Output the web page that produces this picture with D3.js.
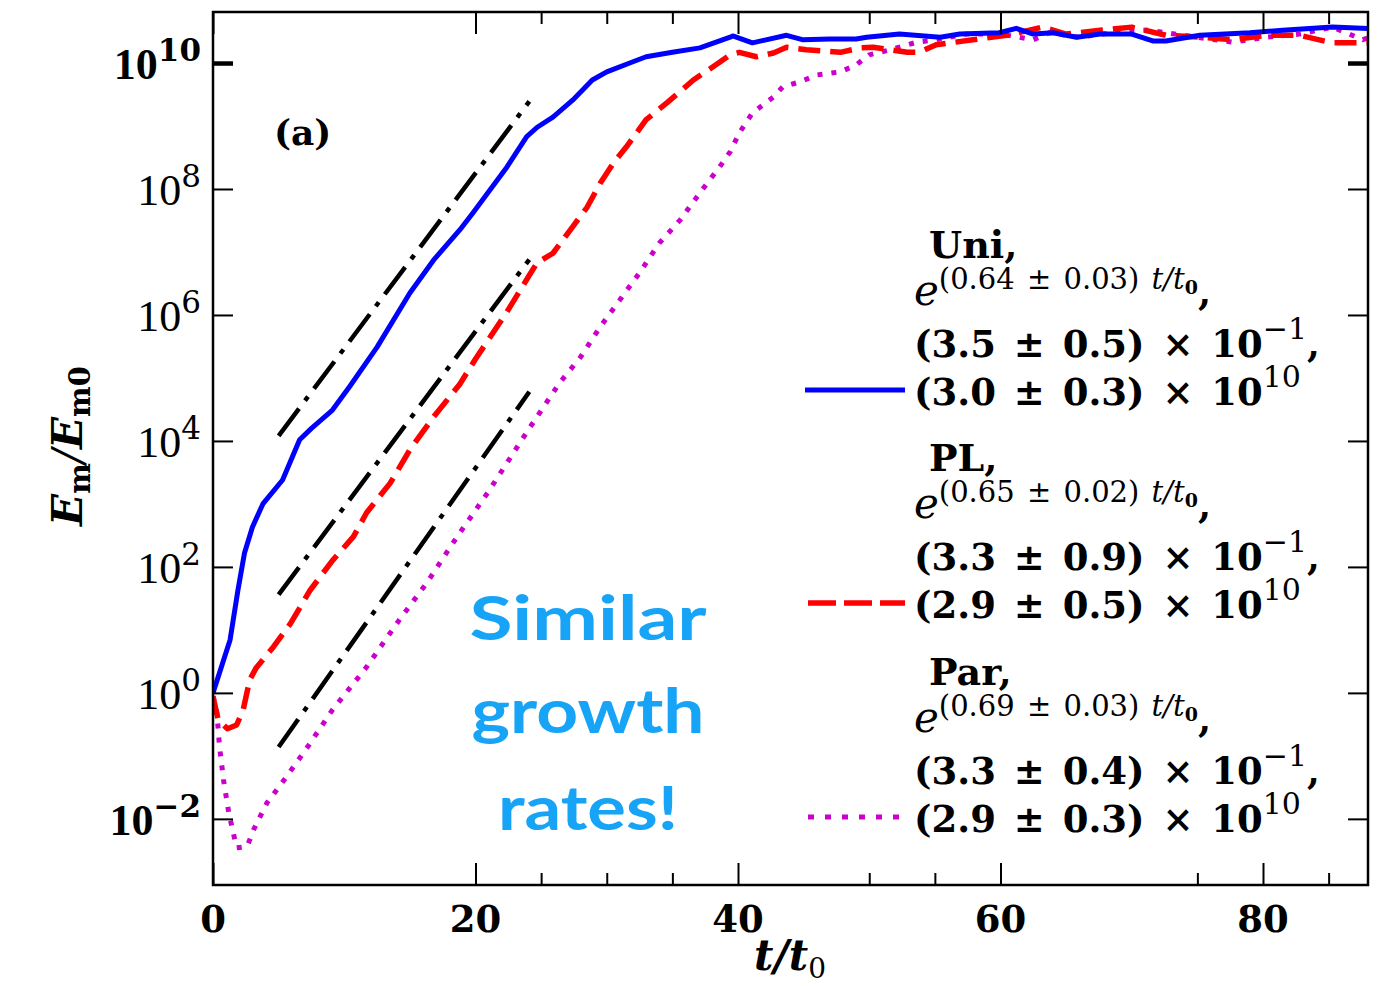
<!DOCTYPE html>
<html>
<head>
<meta charset="utf-8">
<script src="https://cdn.jsdelivr.net/npm/d3@7"></script>
<style>
	html, body { margin: 0; padding: 0; background: #fff; }
	svg { display: block; }
	text { white-space: pre; }
</style>
</head>
<body>
<div id="chart"></div>
<script>
'use strict';
(function() {

	/***************************************
	 * DATA (t/t0 and log10 of Em/Em0)
	 ***************************************/

	var uniT   = [0, 1.3, 1.9, 2.4, 3.0, 3.8, 5.3, 6.6, 7.5, 9.1, 10.4, 12.5, 15, 16.8, 18.8, 19.8, 22.4, 23.9, 24.7, 25.9,
		27.4, 28.9, 30, 32, 33, 35, 37.1, 39.4, 39.6, 41.1, 43.7, 44.9, 47, 49, 49.8, 52.3, 55.4, 56.9, 59.9, 61.2,
		62.5, 64, 65.8, 67.6, 70, 71.6, 72.6, 75.2, 79, 81.5, 85.3, 88];
	var uniLog = [0, 0.84, 1.63, 2.22, 2.63, 3.0, 3.38, 4.02, 4.2, 4.49, 4.86, 5.49, 6.35, 6.87, 7.35, 7.62, 8.35, 8.83, 8.98, 9.14,
		9.41, 9.73, 9.86, 10.02, 10.1, 10.17, 10.24, 10.41, 10.43, 10.32, 10.44, 10.37, 10.38, 10.38, 10.41, 10.46, 10.41, 10.46, 10.48, 10.55,
		10.46, 10.48, 10.41, 10.46, 10.46, 10.35, 10.35, 10.44, 10.48, 10.52, 10.57, 10.55];

	var plT   = [0, 0.4, 1.1, 1.8, 2.3, 2.8, 3.3, 4.6, 5.9, 7.4, 9.1, 10.7, 11.7, 13.5, 15, 16.8, 18.8, 20, 22.4, 24.1,
		24.7, 25.9, 27.4, 28.5, 29.5, 30.5, 31.5, 33, 34.6, 36.6, 38.1, 39.4, 40.1, 41.4, 42.7, 43.7, 45.2, 47.8, 49.3, 50.3,
		52.9, 53.8, 55.1, 57.9, 60.5, 63.2, 65, 67.6, 70, 72.6, 75.2, 77.7, 80.3, 82.8, 85.3, 88];
	var plLog = [-0.06, -0.43, -0.57, -0.51, -0.27, 0.21, 0.4, 0.73, 1.1, 1.63, 2.1, 2.48, 2.86, 3.33, 3.86, 4.38, 4.9, 5.3, 6.05, 6.63,
		6.83, 6.98, 7.4, 7.71, 8.09, 8.41, 8.67, 9.1, 9.37, 9.73, 9.94, 10.13, 10.17, 10.1, 10.16, 10.25, 10.21, 10.17, 10.24, 10.25,
		10.17, 10.17, 10.29, 10.37, 10.44, 10.57, 10.46, 10.52, 10.57, 10.44, 10.41, 10.37, 10.44, 10.44, 10.32, 10.32];

	var parT   = [0, 0.3, 0.5, 0.8, 1.2, 1.8, 2.6, 3.1, 4.1, 5.6, 7.2, 9.1, 11.7, 14.2, 16.3, 18.6, 21, 24.1, 26.4, 28,
		29.5, 31, 32.5, 34, 35.6, 37.1, 38.6, 39.4, 40.1, 41.1, 42.7, 43.4, 44.7, 46, 47.8, 49, 50, 51.6, 53.6, 55.1,
		57.4, 60, 62.5, 63.7, 66, 68.5, 70, 71.4, 73.9, 77.7, 80.3, 82.8, 85.3, 87.6, 88];
	var parLog = [-0.05, -0.32, -0.86, -1.38, -1.9, -2.46, -2.44, -2.17, -1.75, -1.33, -0.86, -0.27, 0.41, 1.16, 1.75, 2.48, 3.2, 4.2, 4.92, 5.33,
		5.81, 6.24, 6.67, 7.14, 7.51, 7.94, 8.35, 8.59, 8.89, 9.21, 9.46, 9.62, 9.7, 9.81, 9.86, 9.97, 10.13, 10.21, 10.33, 10.37,
		10.46, 10.46, 10.37, 10.48, 10.41, 10.48, 10.52, 10.52, 10.44, 10.33, 10.41, 10.46, 10.57, 10.37, 10.4];

	//exponential fits (dash-dot): start/end in t/t0 and log10
	var fitT   = [[5, 24.1], [5, 24.1], [5, 24.1]];
	var fitLog = [[4.08, 9.39], [1.56, 6.88], [-0.86, 4.78]];

	//legend text
	var legendNames = ['Uni,', 'PL,', 'Par,'];
	var legendRates = ['0.64 \u00b1 0.03', '0.65 \u00b1 0.02', '0.69 \u00b1 0.03'];
	var legendCoefA = ['3.5 \u00b1 0.5', '3.3 \u00b1 0.9', '3.3 \u00b1 0.4'];
	var legendCoefB = ['3.0 \u00b1 0.3', '2.9 \u00b1 0.5', '2.9 \u00b1 0.3'];

	//ticks
	var xLabelTicks = [0, 20, 40, 60, 80];
	var xMinorTicks = [25, 30, 35, 50, 55, 75, 85];
	var yTickExps   = [-2, 0, 2, 4, 6, 8, 10];

	var noteLines = ['Similar', 'growth', 'rates!'];

	/***************************************
	 * SIZING / SCALES
	 ***************************************/
	var W = 1384, H = 986;
	var left = 213, right = 1368, top = 12, bottom = 885;

	var x = d3.scaleLinear().domain([0, 88]).range([left, right]);
	var y = d3.scaleLog().domain([Math.pow(10, -3.05), Math.pow(10, 10.81)]).range([bottom, top]);

	var svg = d3.select('#chart').append('svg')
		.attr('width', W)
		.attr('height', H);

	var SERIF = "'DejaVu Serif', serif";
	var LSERIF = "'Liberation Serif', serif";

	//Append a text with tspans; each part may rise above the baseline
	function rich(parent, px, py, parts, anchor) {
		var t = parent.append('text')
			.attr('x', px)
			.attr('y', py)
			.attr('text-anchor', anchor || 'start')
			.attr('fill', '#000');
		var prev = 0;
		parts.forEach(function(p) {
			var rise = p.rise || 0;
			t.append('tspan')
				.attr('dy', prev - rise)
				.style('font-family', p.f || SERIF)
				.style('font-size', p.s + 'px')
				.style('font-weight', p.w || 'normal')
				.style('font-style', p.i ? 'italic' : 'normal')
				.style('word-spacing', p.ws ? p.ws + 'px' : null)
				.text(p.t);
			prev = rise;
		});
		return t;
	}

	/***************************************
	 * SERIES
	 ***************************************/
	svg.append('clipPath').attr('id', 'plotClip')
		.append('rect')
		.attr('x', left).attr('y', top)
		.attr('width', right - left).attr('height', bottom - top);

	var plot = svg.append('g').attr('clip-path', 'url(#plotClip)');

	var line = d3.line()
		.x(function(d) { return x(d[0]); })
		.y(function(d) { return y(Math.pow(10, d[1])); });

	function pairs(ts, ls) { return ts.map(function(t, i) { return [t, ls[i]]; }); }

	//fit lines
	fitT.forEach(function(ts, i) {
		plot.append('path')
			.datum(pairs(ts, fitLog[i]))
			.attr('d', line)
			.attr('fill', 'none')
			.attr('stroke', '#000')
			.attr('stroke-width', 4.5)
			.attr('stroke-dasharray', '34,10,5,10');
	});

	var series = [
		{ t: parT, v: parLog, color: '#cc00cc', dash: '5,9', width: 5 },
		{ t: plT, v: plLog, color: '#ff0000', dash: '22,10', width: 5.5 },
		{ t: uniT, v: uniLog, color: '#0000ff', dash: null, width: 5 }
	];
	series.forEach(function(s) {
		plot.append('path')
			.datum(pairs(s.t, s.v))
			.attr('d', line)
			.attr('fill', 'none')
			.attr('stroke', s.color)
			.attr('stroke-width', s.width)
			.attr('stroke-linejoin', 'round')
			.attr('stroke-dasharray', s.dash);
	});

	/***************************************
	 * AXES
	 ***************************************/
	function styleAxis(g) {
		g.select('.domain').remove();
		g.selectAll('.tick line').attr('stroke', '#000').attr('stroke-width', 2);
	}

	//bottom / top, major and minor
	svg.append('g').attr('transform', 'translate(0,' + bottom + ')')
		.call(d3.axisBottom(x).tickValues(xLabelTicks).tickSize(-22).tickFormat(''))
		.call(styleAxis);
	svg.append('g').attr('transform', 'translate(0,' + bottom + ')')
		.call(d3.axisBottom(x).tickValues(xMinorTicks).tickSize(-12).tickFormat(''))
		.call(styleAxis);
	svg.append('g').attr('transform', 'translate(0,' + top + ')')
		.call(d3.axisTop(x).tickValues(xLabelTicks).tickSize(-22).tickFormat(''))
		.call(styleAxis);
	svg.append('g').attr('transform', 'translate(0,' + top + ')')
		.call(d3.axisTop(x).tickValues(xMinorTicks).tickSize(-12).tickFormat(''))
		.call(styleAxis);

	var yVals = yTickExps.map(function(e) { return Math.pow(10, e); });
	svg.append('g').attr('transform', 'translate(' + left + ',0)')
		.call(d3.axisLeft(y).tickValues(yVals).tickSize(-20).tickFormat(''))
		.call(styleAxis);
	svg.append('g').attr('transform', 'translate(' + right + ',0)')
		.call(d3.axisRight(y).tickValues(yVals).tickSize(-20).tickFormat(''))
		.call(styleAxis);
	//the 10^10 ticks are drawn heavier in the figure
	svg.selectAll('.tick line')
		.filter(function(d) { return d === 1e10; })
		.attr('stroke-width', 4.5);

	//frame
	svg.append('rect')
		.attr('x', left).attr('y', top)
		.attr('width', right - left).attr('height', bottom - top)
		.attr('fill', 'none')
		.attr('stroke', '#000')
		.attr('stroke-width', 2.5);

	//x tick labels
	xLabelTicks.forEach(function(v) {
		rich(svg, x(v), 932, [{ t: String(v), s: 37, w: 'bold' }], 'middle');
	});

	//y tick labels
	yTickExps.forEach(function(e) {
		var heavy = (e === 10 || e === -2) ? 'bold' : 'normal';
		rich(svg, 201, y(Math.pow(10, e)) + 16, [
			{ t: '10', s: 44, f: LSERIF, w: heavy },
			{ t: (e < 0 ? '\u2212' : '') + Math.abs(e), s: 31, rise: 18, w: heavy }
		], 'end');
	});

	//axis titles
	rich(svg, 790, 970, [
		{ t: 't/t', s: 42, i: true, w: 'bold' },
		{ t: '0', s: 28, rise: -8 }
	], 'middle');

	var yTitle = svg.append('g').attr('transform', 'translate(82,446) rotate(-90)');
	rich(yTitle, 0, 0, [
		{ t: 'E', s: 42, i: true, w: 'bold' },
		{ t: 'm', s: 29, rise: -8, w: 'bold' },
		{ t: '/', s: 42, i: true },
		{ t: 'E', s: 42, i: true, w: 'bold' },
		{ t: 'm0', s: 29, rise: -8, w: 'bold' }
	], 'middle');

	//panel label
	rich(svg, 274, 145, [{ t: '(a)', s: 36, w: 'bold' }]);

	/***************************************
	 * LEGEND
	 ***************************************/
	var legendY = [390, 603, 817];
	legendNames.forEach(function(name, i) {
		var L = legendY[i];
		var s = series[2 - i];
		svg.append('line')
			.attr('x1', i === 0 ? 805 : 808).attr('x2', 905)
			.attr('y1', L).attr('y2', L)
			.attr('stroke', s.color)
			.attr('stroke-width', s.width)
			.attr('stroke-dasharray', i === 1 ? '28,8' : (i === 2 ? '6,11' : null));

		rich(svg, 929, L - 132, [{ t: name, s: 38, w: 'bold' }]);
		rich(svg, 914, L - 85, [
			{ t: 'e', s: 42, i: true },
			{ t: '(' + legendRates[i] + ') ', s: 29, rise: 16, ws: 3 },
			{ t: 't/t', s: 29, rise: 16, i: true },
			{ t: '0', s: 19, rise: 11, w: 'bold' },
			{ t: ',', s: 38, w: 'bold' }
		]);
		rich(svg, 914, L - 33, [
			{ t: '(' + legendCoefA[i] + ') \u00d7 10', s: 37, w: 'bold', ws: 5 },
			{ t: '\u22121', s: 30, rise: 18 },
			{ t: ',', s: 37, w: 'bold' }
		]);
		rich(svg, 914, L + 15, [
			{ t: '(' + legendCoefB[i] + ') \u00d7 10', s: 37, w: 'bold', ws: 5 },
			{ t: '10', s: 30, rise: 18 }
		]);
	});

	/***************************************
	 * ANNOTATION
	 ***************************************/
	var noteY = [640, 733, 830];
	var noteW = [237, 233, 180];
	noteLines.forEach(function(txt, i) {
		svg.append('text')
			.attr('x', 588)
			.attr('y', noteY[i])
			.attr('text-anchor', 'middle')
			.attr('textLength', noteW[i])
			.attr('lengthAdjust', 'spacingAndGlyphs')
			.style('font-family', "Lato, 'Noto Sans', sans-serif")
			.style('font-size', '62px')
			.style('font-weight', 'bold')
			.attr('fill', '#17a4f6')
			.text(txt);
	});

})();
</script>
</body>
</html>
